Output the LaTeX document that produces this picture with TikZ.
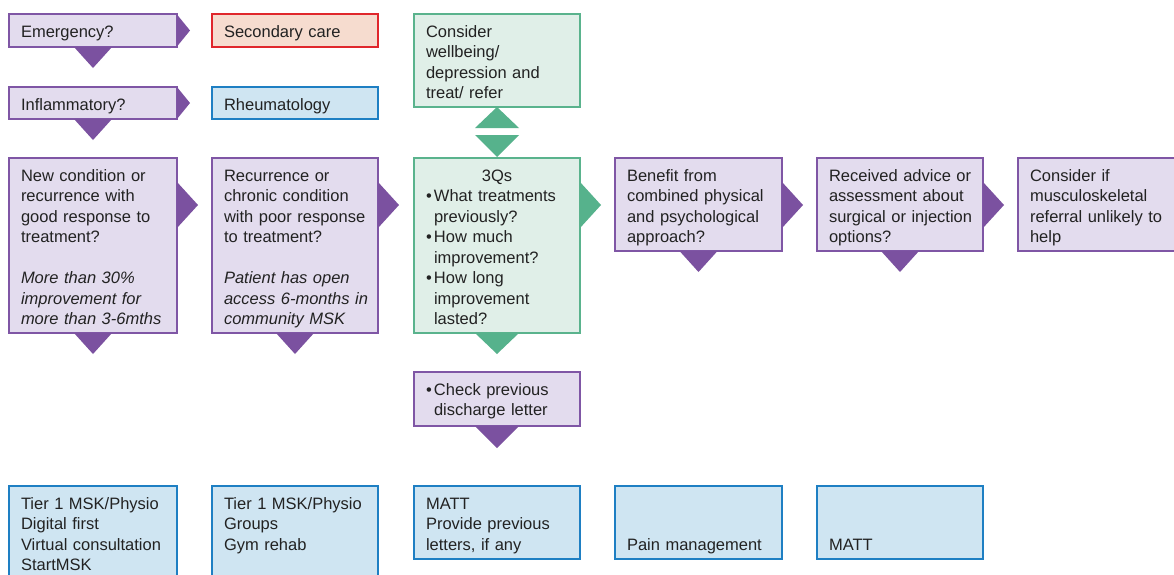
\documentclass[tikz,border=0pt]{standalone}
\usepackage{fontspec}
\setmainfont{Liberation Sans}
\usetikzlibrary{calc}
\definecolor{pbord}{HTML}{7F56A5}
\definecolor{pfill}{HTML}{E3DCEE}
\definecolor{parr}{HTML}{7B51A0}
\definecolor{gbord}{HTML}{5AB38D}
\definecolor{gfill}{HTML}{E0EFE8}
\definecolor{garr}{HTML}{56B28C}
\definecolor{bbord}{HTML}{1E7FC3}
\definecolor{bfill}{HTML}{CFE5F2}
\definecolor{rbord}{HTML}{E0272C}
\definecolor{rfill}{HTML}{F6DCCF}
\definecolor{tcol}{HTML}{222222}
\tikzset{
  box/.style={draw, line width=2.6pt, anchor=north west, inner sep=0pt, outer sep=0pt},
  pbox/.style={box, draw=pbord, fill=pfill},
  gbox/.style={box, draw=gbord, fill=gfill},
  bbox/.style={box, draw=bbord, fill=bfill},
  rbox/.style={box, draw=rbord, fill=rfill},
  txt/.style={anchor=north west, inner sep=0pt, outer sep=0pt, text width=185pt, align=left,
    text=tcol, font=\fontsize{16.5}{20.5}\selectfont}
}
\newcommand\mybox[7]{%
  \node[#2, minimum width=#5pt, minimum height=#6pt] (#1) at (#3,#4) {};
  \node[txt] (#1t) at (#3+12,#4+9) {\strut #7};}
\newcommand\rtri[5]{\fill[#1] ($(#2.north east)+(0,#3-#4)$) -- ($(#2.north east)+(#5,#3)$) -- ($(#2.north east)+(0,#3+#4)$) -- cycle;}
\newcommand\dtri[4]{\fill[#1] ($(#2.south)+(-#3,0)$) -- ($(#2.south)+(0,#4)$) -- ($(#2.south)+(#3,0)$) -- cycle;}
\newcommand\bitem[1]{\par\hangindent=8pt\hangafter=1\noindent\hbox to 8pt{\textbullet\hfil}#1\par}
\newcommand\bfirst[1]{\hangindent=8pt\hangafter=1\hbox to 8pt{\textbullet\hfil}#1\par}
\begin{document}
\begin{tikzpicture}[x=1pt,y=-1pt]
\fill[white] (0,0) rectangle (1174,574);
\clip (0,0) rectangle (1174,574);
% row 1 and 2
\mybox{e1}{pbox}{9}{14}{168}{33}{Emergency?}
\mybox{sc}{rbox}{212}{14}{166}{33}{Secondary care}
\mybox{e2}{pbox}{9}{87}{168}{32}{Inflammatory?}
\mybox{rh}{bbox}{212}{87}{166}{32}{Rheumatology}
\mybox{cw}{gbox}{414}{14}{166}{93}{Consider\\wellbeing/\\depression and\\treat/ refer}
% row 3
\mybox{a1}{pbox}{9}{158}{168}{175}{New condition or\\recurrence with\\good response to\\treatment?\\\strut\\\textit{More than 30\%}\\\textit{improvement for}\\\textit{more than 3-6mths}}
\mybox{a2}{pbox}{212}{158}{166}{175}{Recurrence or\\chronic condition\\with poor response\\to treatment?\\\strut\\\textit{Patient has open}\\\textit{access 6-months in}\\\textit{community MSK}}
\mybox{q}{gbox}{414}{158}{166}{175}{\hbox to 142pt{\hfil 3Qs\hfil}%
  \bitem{What treatments\newline previously?}%
  \bitem{How much\newline improvement?}%
  \bitem{How long\newline improvement\newline lasted?}}
\mybox{b}{pbox}{615}{158}{167}{93}{Benefit from\\combined physical\\and psychological\\approach?}
\mybox{r}{pbox}{817}{158}{166}{93}{Received advice or\\assessment about\\surgical or injection\\options?}
\mybox{c}{pbox}{1018}{158}{175}{93}{Consider if\\musculoskeletal\\referral unlikely to\\help}
\mybox{ch}{pbox}{414}{372}{166}{54}{\bfirst{Check previous\newline discharge letter}}
% bottom row
\mybox{t1}{bbox}{9}{486}{168}{110}{Tier 1 MSK/Physio\\Digital first\\Virtual consultation\\StartMSK}
\mybox{t2}{bbox}{212}{486}{166}{110}{Tier 1 MSK/Physio\\Groups\\Gym rehab}
\mybox{m1}{bbox}{414}{486}{166}{73}{MATT\\Provide previous\\letters, if any}
\mybox{pm}{bbox}{615}{486}{167}{73}{\\\strut\\Pain management}
\mybox{m2}{bbox}{817}{486}{166}{73}{\\\strut\\MATT}
% arrow heads
\rtri{parr}{e1}{16.5}{16}{13}
\dtri{parr}{e1}{19}{21}
\rtri{parr}{e2}{16}{16}{13}
\dtri{parr}{e2}{19}{21}
\rtri{parr}{a1}{47}{23}{21}
\dtri{parr}{a1}{19}{21}
\rtri{parr}{a2}{47}{23}{21}
\dtri{parr}{a2}{19}{21}
\rtri{garr}{q}{47}{23}{21}
\dtri{garr}{q}{22}{21}
\rtri{parr}{b}{47}{23}{21}
\dtri{parr}{b}{19}{21}
\rtri{parr}{r}{47}{23}{21}
\dtri{parr}{r}{19}{21}
\dtri{parr}{ch}{22}{22}
\fill[garr] ($(cw.south)+(-22,21)$) -- (cw.south) -- ($(cw.south)+(22,21)$) -- cycle;
\fill[garr] ($(q.north)+(-22,-23)$) -- ($(q.north)+(0,-1)$) -- ($(q.north)+(22,-23)$) -- cycle;
\end{tikzpicture}
\end{document}
